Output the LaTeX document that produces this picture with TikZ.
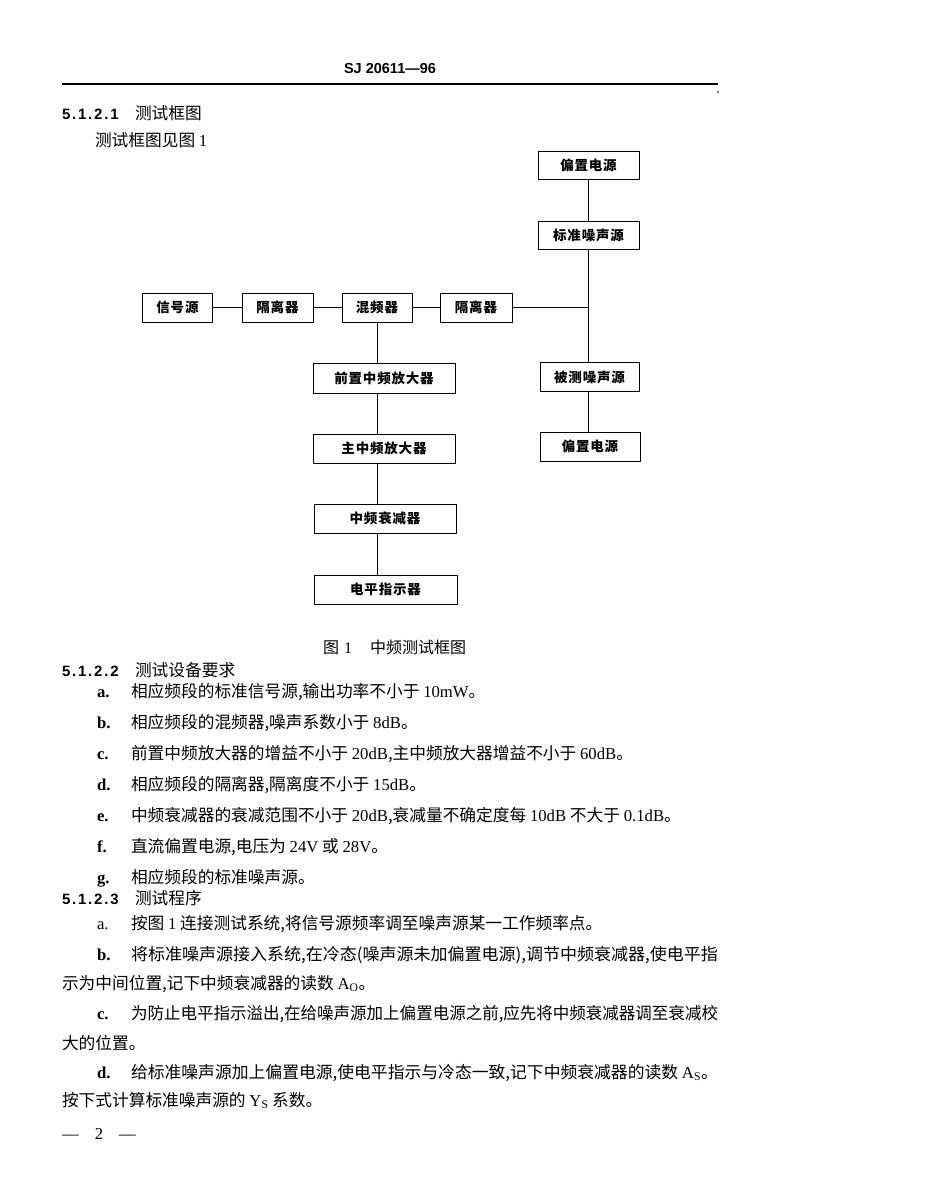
\documentclass[tikz,border=0pt]{standalone}
\usepackage{fontspec}
\setmainfont{Liberation Serif}
\newfontfamily\cjk{Noto Sans CJK SC}
\newfontfamily\boxfont[LetterSpace=6]{Noto Sans CJK SC}
\newfontfamily\secfont[LetterSpace=12]{Liberation Sans}
\newfontfamily\hdrfont{Liberation Sans}
\newcommand\bodyfont{\cjk\fontsize{16.7}{20}\selectfont}
\newcommand\lat[1]{{\rmfamily #1}}
\newcommand\fitline[1]{\resizebox{587pt}{\height}{#1}}
\begin{document}
\begin{tikzpicture}[x=1pt,y=-1pt,
  box/.style={draw, line width=1pt, inner sep=0pt, minimum height=29pt,
    font=\boxfont\bfseries\fontsize{13.5}{15}\selectfont},
  link/.style={line width=0.8pt},
  txt/.style={anchor=base west, inner sep=0pt, outer sep=0pt, font=\bodyfont},
  lbl/.style={anchor=base west, inner sep=0pt, outer sep=0pt,
    font=\rmfamily\bfseries\fontsize{16.7}{20}\selectfont},
  sec/.style={anchor=base west, inner sep=0pt, outer sep=0pt,
    font=\secfont\bfseries\fontsize{15}{18}\selectfont}]
\useasboundingbox (0,0) rectangle (950,1195);
\fill[white] (0,0) rectangle (950,1195);

% header
\node[anchor=base, inner sep=0pt, font=\hdrfont\bfseries\fontsize{14.5}{16}\selectfont] (hdr) at (390,73) {SJ 20611—96};
\coordinate (ruleL) at (62,84);
\coordinate (ruleR) at (718,84);
\draw[line width=1.8pt] (ruleL) -- (ruleR);
\fill (718,92) circle (0.8);

% 5.1.2.1
\node[sec] (s1n) at (62,119) {5.1.2.1};
\node[txt] (s1t) at (135,119) {测试框图};
\node[txt] (s1b) at (95,146) {测试框图见图 \lat{1}};

% diagram boxes
\node[box, minimum width=101pt, minimum height=28pt] (biasA) at (588.5,165.5) {偏置电源};
\node[box, minimum width=101pt, minimum height=28pt] (std) at (588.5,235) {标准噪声源};
\node[box, minimum width=70pt] (sig) at (177.5,307.5) {信号源};
\node[box, minimum width=71pt] (isoA) at (277.5,307.5) {隔离器};
\node[box, minimum width=70pt] (mix) at (377,307.5) {混频器};
\node[box, minimum width=72pt] (isoB) at (476,307.5) {隔离器};
\node[box, minimum width=99pt] (dut) at (589.5,377) {被测噪声源};
\node[box, minimum width=100pt] (biasB) at (590,446.5) {偏置电源};
\node[box, minimum width=142pt, minimum height=30pt] (pre) at (384,378) {前置中频放大器};
\node[box, minimum width=142pt] (amp) at (384,448.5) {主中频放大器};
\node[box, minimum width=142pt] (att) at (385,518.5) {中频衰减器};
\node[box, minimum width=143pt] (lvl) at (385.5,589.5) {电平指示器};

% connectors
\coordinate (J) at (588.5,307.5);
\draw[link] (biasA.south) -- (std.north);
\draw[link] (std.south) -- (J) -- (J |- dut.north);
\draw[link] (isoB.east) -- (J);
\draw[link] (sig.east) -- (isoA.west);
\draw[link] (isoA.east) -- (mix.west);
\draw[link] (mix.east) -- (isoB.west);
\draw[link] (mix.south) -- (mix.south |- pre.north);
\draw[link] (mix.south |- pre.south) -- (mix.south |- amp.north);
\draw[link] (mix.south |- amp.south) -- (mix.south |- att.north);
\draw[link] (mix.south |- att.south) -- (mix.south |- lvl.north);
\draw[link] (J |- dut.south) -- (J |- biasB.north);

% caption
\node[txt, font=\cjk\fontsize{16}{19}\selectfont] (cap) at (323,653) {图\hspace{5pt}\lat{1}\hspace{18pt}中频测试框图};

% 5.1.2.2
\node[sec] (s2n) at (62,676) {5.1.2.2};
\node[txt] (s2t) at (135,676) {测试设备要求};
\node[lbl] (la) at (97,697) {a.};
\node[txt] (ta) at (131,697) {相应频段的标准信号源,输出功率不小于 \lat{10mW}。};
\node[lbl] (lb) at (97,728) {b.};
\node[txt] (tb) at (131,728) {相应频段的混频器,噪声系数小于 \lat{8dB}。};
\node[lbl] (lc) at (97,759) {c.};
\node[txt] (tc) at (131,759) {前置中频放大器的增益不小于 \lat{20dB},主中频放大器增益不小于 \lat{60dB}。};
\node[lbl] (ld) at (97,790) {d.};
\node[txt] (td) at (131,790) {相应频段的隔离器,隔离度不小于 \lat{15dB}。};
\node[lbl] (le) at (97,821) {e.};
\node[txt] (te) at (131,821) {中频衰减器的衰减范围不小于 \lat{20dB},衰减量不确定度每 \lat{10dB} 不大于 \lat{0.1dB}。};
\node[lbl] (lf) at (97,852) {f.};
\node[txt] (tf) at (131,852) {直流偏置电源,电压为 \lat{24V} 或 \lat{28V}。};
\node[lbl] (lg) at (97,883) {g.};
\node[txt] (tg) at (131,883) {相应频段的标准噪声源。};

% 5.1.2.3
\node[sec] (s3n) at (62,904) {5.1.2.3};
\node[txt] (s3t) at (135,904) {测试程序};
\node[lbl, font=\rmfamily\fontsize{16.7}{20}\selectfont] (pa) at (97,929) {a.};
\node[txt] (qa) at (131,929) {按图 \lat{1} 连接测试系统,将信号源频率调至噪声源某一工作频率点。};
\node[lbl] (pb) at (97,960) {b.};
\node[txt] (qb) at (131,960) {\fitline{将标准噪声源接入系统,在冷态(噪声源未加偏置电源),调节中频衰减器,使电平指}};
\node[txt] (qb2) at (62,989) {示为中间位置,记下中频衰减器的读数 \lat{A\textsubscript{O}}。};
\node[lbl] (pc) at (97,1019) {c.};
\node[txt] (qc) at (131,1019) {\fitline{为防止电平指示溢出,在给噪声源加上偏置电源之前,应先将中频衰减器调至衰减校}};
\node[txt] (qc2) at (62,1049) {大的位置。};
\node[lbl] (pd) at (97,1078) {d.};
\node[txt] (qd) at (131,1078) {\fitline{给标准噪声源加上偏置电源,使电平指示与冷态一致,记下中频衰减器的读数 \lat{A\textsubscript{S}}。}};
\node[txt] (qd2) at (62,1106) {按下式计算标准噪声源的 \lat{Y\textsubscript{S}} 系数。};

% page number
\node[anchor=base west, inner sep=0pt, font=\rmfamily\fontsize{16.7}{20}\selectfont] (pg) at (62,1139) {—\hspace{16pt}2\hspace{16pt}—};
\end{tikzpicture}
\end{document}
